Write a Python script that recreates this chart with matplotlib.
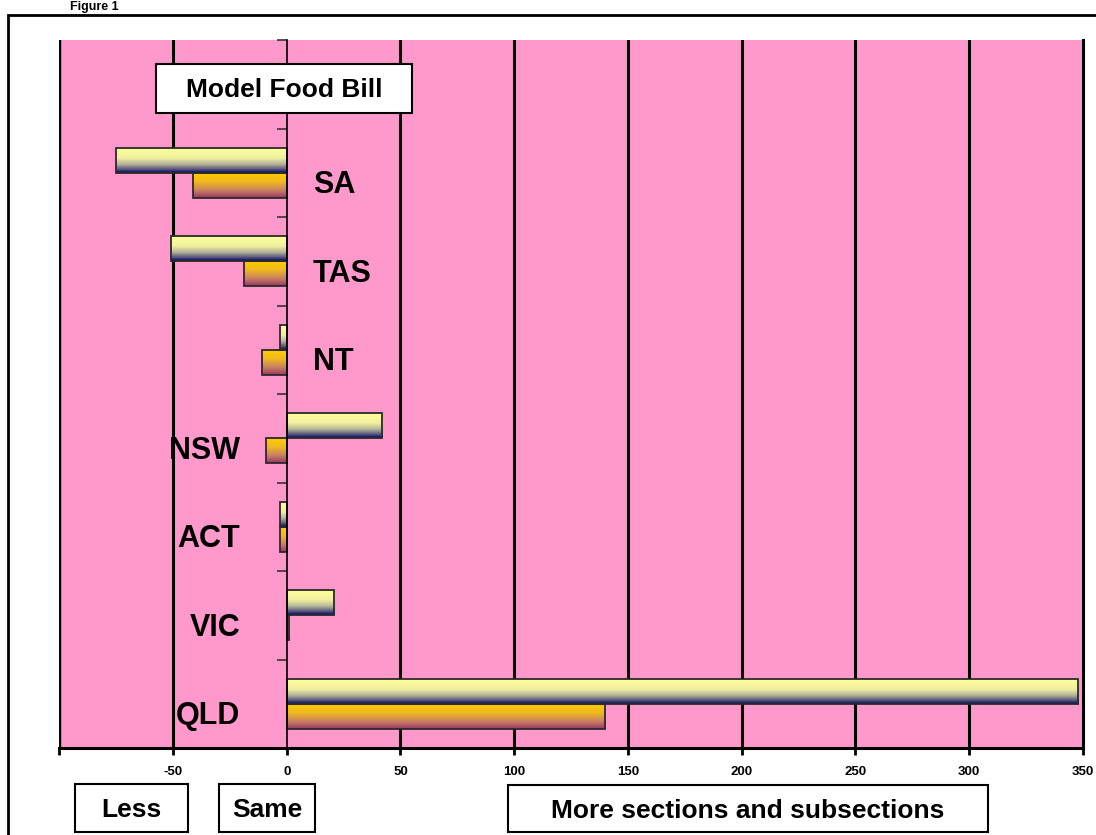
import numpy as np
import matplotlib.pyplot as plt
from matplotlib.colors import LinearSegmentedColormap
from matplotlib.patches import Rectangle

# data (top to bottom)
states = ["SA", "TAS", "NT", "NSW", "ACT", "VIC", "QLD"]
series_a = [-75, -51, -3, 42, -3, 21, 348]
series_b = [-41, -19, -11, -9, -3, 1, 140]
x_ticks = [-100, -50, 0, 50, 100, 150, 200, 250, 300, 350]
x_labels = ["", "-50", "0", "50", "100", "150", "200", "250", "300", "350"]

W, H = 1096, 835
plt.rcParams['font.family'] = ['Liberation Sans', 'DejaVu Sans']

fig = plt.figure(figsize=(W / 100, H / 100), dpi=100)
fig.patch.set_facecolor('white')

def fx(px):
  return px / W

def fy(py):
  return 1 - py / H

ax = fig.add_axes([fx(59.3), fy(748), fx(1082.7) - fx(59.3), fy(40) - fy(748)])
ax.set_facecolor('#FF99CC')

cmap_a = LinearSegmentedColormap.from_list(
  'a', [(0, '#FFFF99'), (0.4, '#F0F0A0'), (0.65, '#B4B49A'), (0.85, '#58587E'), (1, '#000066')])
cmap_b = LinearSegmentedColormap.from_list(
  'b', [(0, '#FFCC00'), (0.35, '#F0B820'), (0.7, '#C88060'), (1, '#993366')])
grad = np.linspace(0, 1, 128).reshape(-1, 1)

ys = np.arange(len(states))
bw = 0.28

bars_a = ax.barh(ys - bw / 2, series_a, height=bw, facecolor='none',
                 edgecolor='#2a2a2a', linewidth=1.3, zorder=4)
bars_b = ax.barh(ys + bw / 2, series_b, height=bw, facecolor='none',
                 edgecolor='#2a2a2a', linewidth=1.3, zorder=4)

for bars, cm in [(bars_a, cmap_a), (bars_b, cmap_b)]:
  for p in bars:
    x0 = p.get_x()
    x1 = x0 + p.get_width()
    y_top = p.get_y()
    y_bot = y_top + p.get_height()
    ax.imshow(grad, cmap=cm, aspect='auto', origin='upper',
              extent=(min(x0, x1), max(x0, x1), y_bot, y_top),
              interpolation='bilinear', zorder=3)

ax.set_xlim(-100, 350)
ax.set_ylim(len(states) - 0.5, -1.5)

# grid lines
for t in x_ticks[1:-1]:
  if t != 0:
    ax.axvline(t, color='black', lw=2.2, zorder=2)
ax.axvline(-100, color='black', lw=2.5, zorder=5)

# spines
ax.spines['top'].set_visible(False)
ax.spines['right'].set_linewidth(2.2)
ax.spines['bottom'].set_linewidth(2.2)
ax.spines['left'].set_position(('data', 0))
ax.spines['left'].set_linewidth(1.2)
ax.spines['left'].set_zorder(5)

ax.set_xticks(x_ticks)
ax.set_xticklabels(x_labels, fontsize=9.5, fontweight='bold')
ax.tick_params(axis='x', direction='out', length=5, width=2, pad=8)

ax.set_yticks(np.arange(-1.5, len(states) - 0.5, 1.0))
ax.set_yticklabels([])
ax.tick_params(axis='y', direction='out', length=7, width=1.2, color='#333333')

# category labels
for i, name in enumerate(states):
  if i < 3:
    ax.text(11.5, i + 0.14, name, ha='left', va='center', fontsize=22,
            fontweight='bold', zorder=6)
  else:
    ax.text(-20.5, i + 0.14, name, ha='right', va='center', fontsize=22,
            fontweight='bold', zorder=6)

# text boxes
def box(x0, y0, x1, y1, label, size=19):
  fig.patches.append(Rectangle((fx(x0), fy(y1)), fx(x1) - fx(x0), fy(y0) - fy(y1),
                               transform=fig.transFigure, facecolor='white',
                               edgecolor='black', lw=1.5, zorder=5))
  fig.text(fx((x0 + x1) / 2), fy((y0 + y1) / 2 + 2), label, ha='center', va='center',
           fontsize=size, fontweight='bold', zorder=6)

box(155.5, 64, 412, 112.5, "Model Food Bill")
box(75, 784, 187.5, 832, "Less")
box(219, 784, 315, 832, "Same")
box(507.5, 785, 987.5, 832, "More sections and subsections")

# outer frame
fig.patches.append(Rectangle((fx(8), fy(900)), 1.2, fy(15) - fy(900),
                             transform=fig.transFigure, facecolor='none',
                             edgecolor='black', lw=2, zorder=1))

fig.text(fx(70), fy(1), "Figure 1", ha='left', va='top',
         fontsize=9, fontweight='bold')

fig.savefig('out.png', dpi=100)
